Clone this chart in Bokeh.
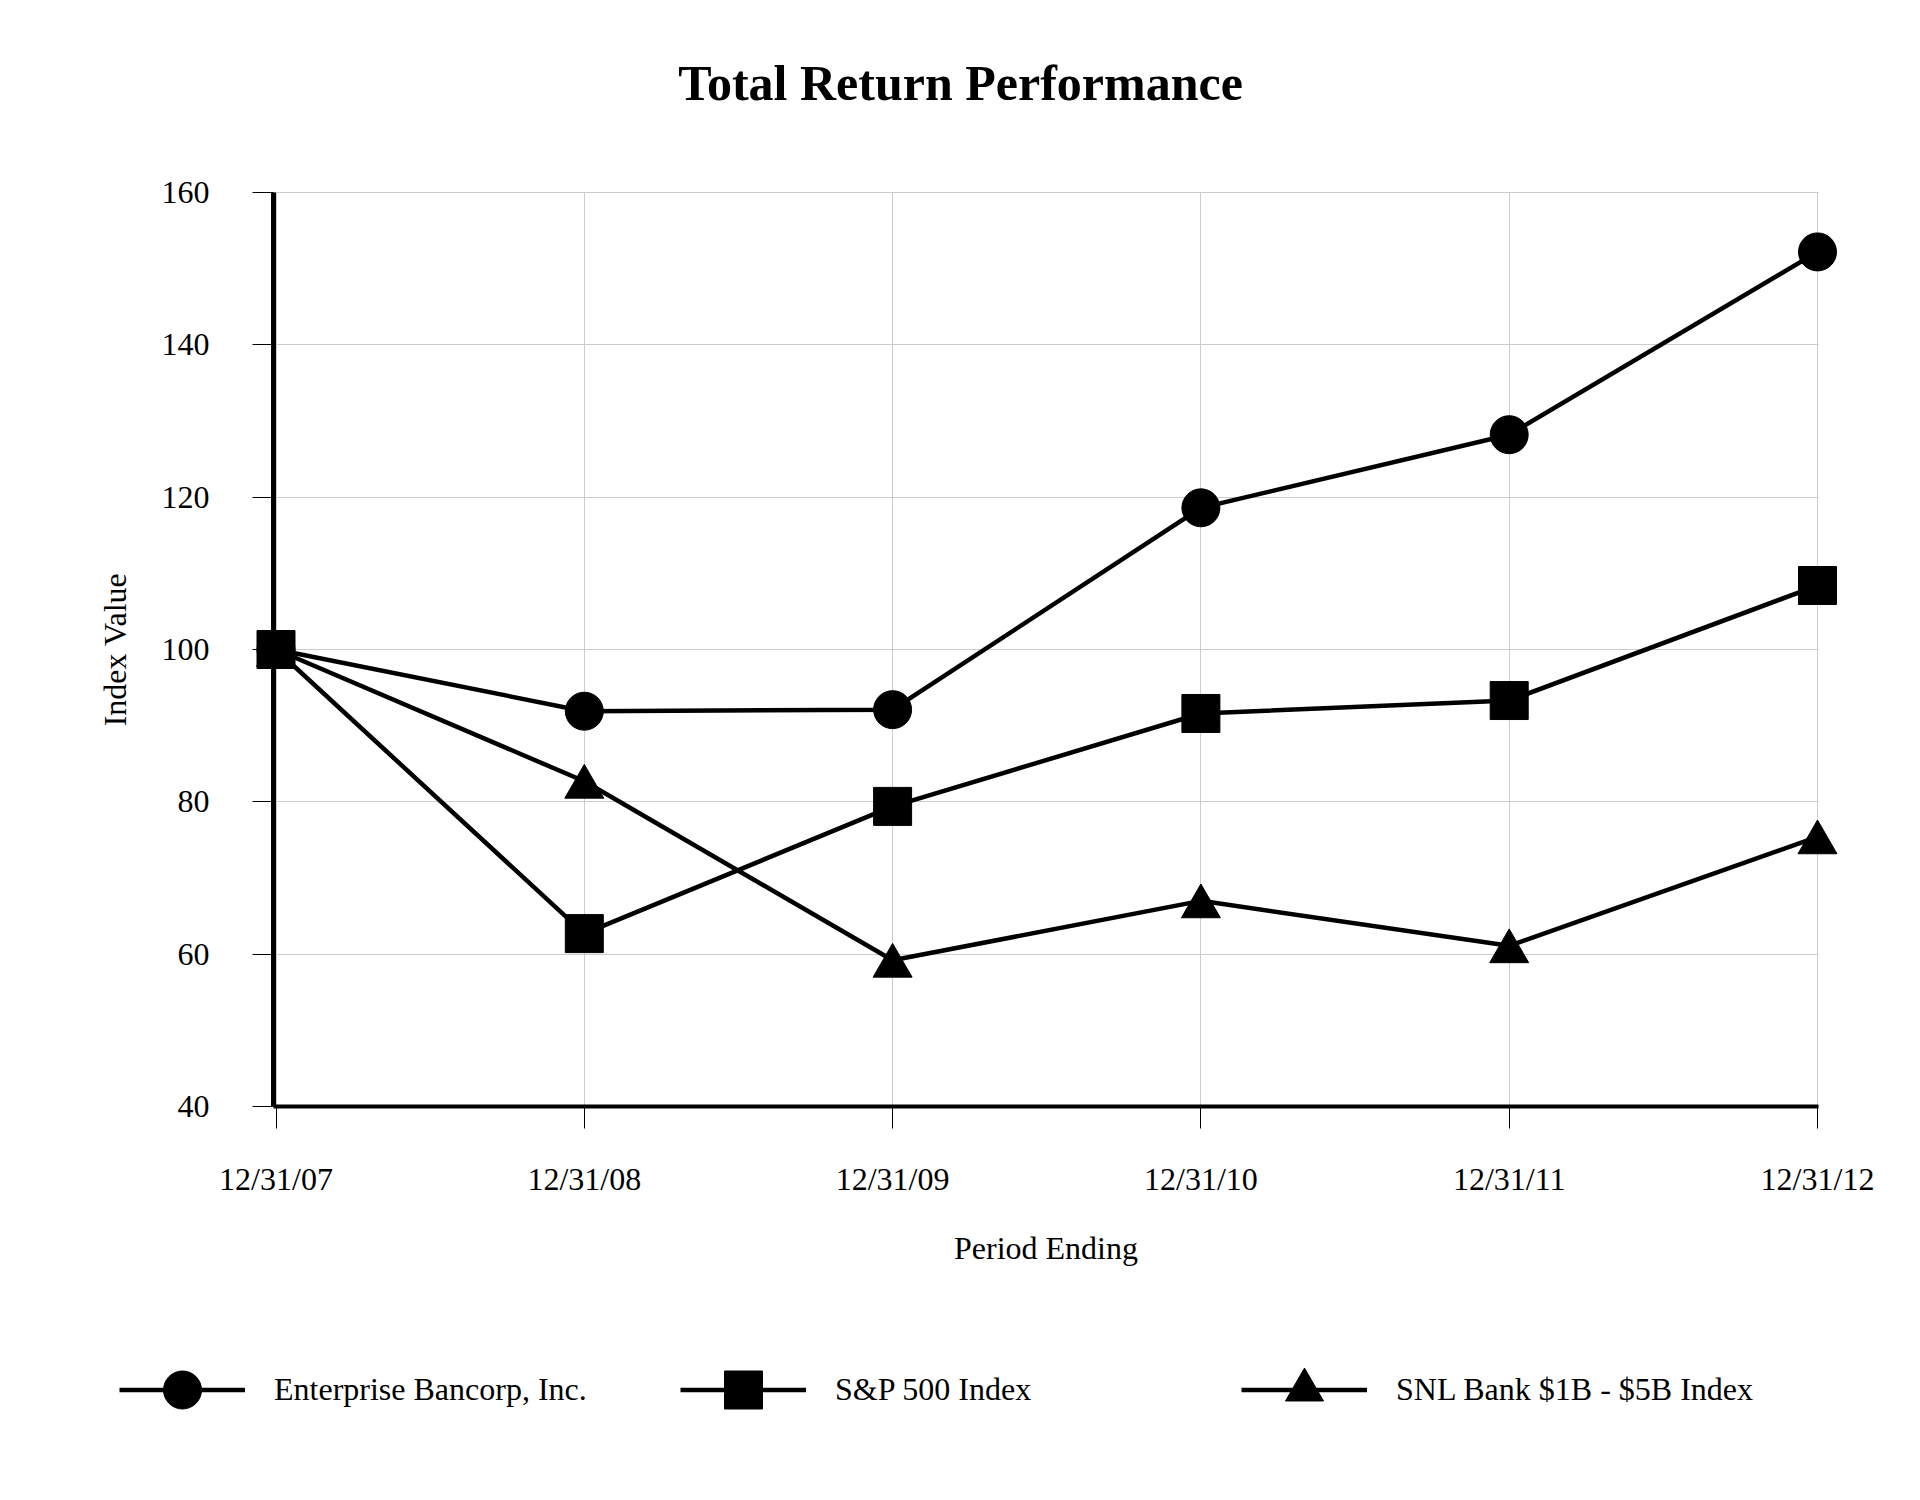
from bokeh.plotting import figure
from bokeh.models import Range1d, FixedTicker, Legend, LegendItem, ColumnDataSource, Label
from bokeh.transform import dodge
from bokeh.embed import file_html
from bokeh.resources import INLINE

# ---- data ----
categories = ["12/31/07", "12/31/08", "12/31/09", "12/31/10", "12/31/11", "12/31/12"]
enterprise = [100.0, 91.9, 92.1, 118.6, 128.2, 152.2]
sp500 = [100.0, 62.7, 79.4, 91.6, 93.3, 108.4]
snl = [100.0, 82.7, 59.2, 67.0, 61.1, 75.4]
y_ticks = [40, 60, 80, 100, 120, 140, 160]
series_names = ["Enterprise Bancorp, Inc.", "S&P 500 Index", "SNL Bank $1B - $5B Index"]
title_text = "Total Return Performance"
x_title = "Period Ending"
y_title = "Index Value"

# ---- layout (pixels on the page) ----
W, H = 1900, 1470
X0_PX, X_STEP_PX = 275.5, 308.3        # first category, px per category
Y_TOP_PX, Y_BOT_PX = 192.0, 1106.0     # px of top / bottom y tick
PLOT_LEFT_PX, PLOT_RIGHT_PX = 273.0, 1818.0
PPU = (Y_BOT_PX - Y_TOP_PX) / (y_ticks[-1] - y_ticks[0])

def px_to_x(px):
    return (px - X0_PX) / X_STEP_PX

def px_to_y(py):
    return y_ticks[0] + (Y_BOT_PX - py) / PPU

FONT = "Liberation Serif"
x = list(range(len(categories)))
src = ColumnDataSource(dict(x=x, enterprise=enterprise, sp500=sp500, snl=snl))

p = figure(width=W, height=H, output_backend="svg", toolbar_location=None, title=None,
           x_range=Range1d(px_to_x(0), px_to_x(W)), y_range=Range1d(px_to_y(H), px_to_y(0)),
           min_border=0)
p.outline_line_color = None
p.background_fill_color = "white"
p.border_fill_color = "white"

x_lo, x_hi = px_to_x(PLOT_LEFT_PX), px_to_x(PLOT_RIGHT_PX)

# x axis
p.xaxis.fixed_location = y_ticks[0]
p.xaxis.bounds = (x_lo, x_hi)
p.xaxis.ticker = FixedTicker(ticks=x)
p.xaxis.major_label_overrides = {i: c for i, c in enumerate(categories)}
p.xaxis.axis_line_width = 4
p.xaxis.axis_line_color = "black"
p.xaxis.major_tick_out = 22
p.xaxis.major_tick_in = 0
p.xaxis.major_tick_line_color = "black"
p.xaxis.major_tick_line_width = 1
p.xaxis.minor_tick_line_color = None
p.xaxis.major_label_standoff = 32
p.xaxis.major_label_text_font = FONT
p.xaxis.major_label_text_font_size = "32px"
p.xaxis.major_label_text_color = "black"
p.xaxis.axis_label = x_title
p.xaxis.axis_label_standoff = 30
p.xaxis.axis_label_text_font = FONT
p.xaxis.axis_label_text_font_size = "32px"
p.xaxis.axis_label_text_font_style = "normal"
p.xaxis.axis_label_text_color = "black"

# y axis
p.yaxis.fixed_location = x_lo
p.yaxis.bounds = (y_ticks[0], y_ticks[-1])
p.yaxis.ticker = FixedTicker(ticks=y_ticks)
p.yaxis.axis_line_width = 5
p.yaxis.axis_line_color = "black"
p.yaxis.major_tick_out = 21
p.yaxis.major_tick_in = 0
p.yaxis.major_tick_line_color = "black"
p.yaxis.major_tick_line_width = 1
p.yaxis.minor_tick_line_color = None
p.yaxis.major_label_standoff = 43
p.yaxis.major_label_text_font = FONT
p.yaxis.major_label_text_font_size = "32px"
p.yaxis.major_label_text_color = "black"
p.yaxis.axis_label = y_title
p.yaxis.axis_label_standoff = 26
p.yaxis.axis_label_text_font = FONT
p.yaxis.axis_label_text_font_size = "32px"
p.yaxis.axis_label_text_font_style = "normal"
p.yaxis.axis_label_text_color = "black"

# grid
p.xgrid.ticker = FixedTicker(ticks=x)
p.xgrid.cross_bounds = (y_ticks[0], y_ticks[-1])
p.ygrid.ticker = FixedTicker(ticks=y_ticks)
p.ygrid.cross_bounds = (x_lo, x_hi)
for g in (p.xgrid, p.ygrid):
    g.grid_line_color = "#cccccc"
    g.grid_line_width = 1

# series
LW = 4.5
l1 = p.line("x", "enterprise", source=src, line_width=LW, line_color="black", level="overlay")
m1 = p.scatter("x", "enterprise", source=src, marker="circle", size=38,
               fill_color="black", line_color="black", level="overlay")
l2 = p.line("x", "sp500", source=src, line_width=LW, line_color="black", level="overlay")
m2 = p.scatter("x", "sp500", source=src, marker="square", size=38,
               fill_color="black", line_color="black", level="overlay")
l3 = p.line("x", "snl", source=src, line_width=LW, line_color="black", level="overlay")
m3 = p.scatter("x", dodge("snl", -0.74), source=src, marker="triangle", size=39,
               fill_color="black", line_color="black", level="overlay")

# legends (one entry each, in a row under the chart)
LEG_Y = 33.5
for name, rends, lx in zip(series_names, [[l1, m1], [l2, m2], [l3, m3]], [119, 680, 1241]):
    lg = Legend(items=[LegendItem(label=name, renderers=rends)], location=(lx, LEG_Y),
                glyph_width=126, glyph_height=95, label_height=95, label_standoff=29,
                padding=0, margin=0, border_line_color=None, background_fill_alpha=0,
                label_text_font=FONT, label_text_font_size="32px", label_text_color="black")
    p.add_layout(lg)

# title
p.add_layout(Label(x=px_to_x(960), y=px_to_y(82), text=title_text, text_align="center",
                   text_baseline="alphabetic", text_font=FONT, text_font_size="50px",
                   text_font_style="bold", text_color="black"))

open("out.html", "w").write(file_html(p, INLINE))
